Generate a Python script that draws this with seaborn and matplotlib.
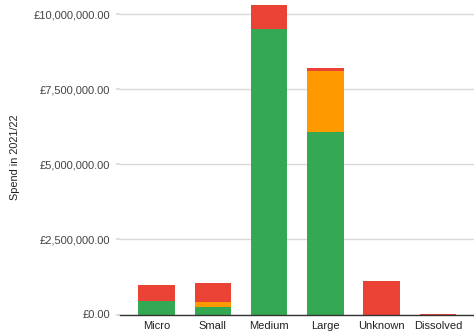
import matplotlib
matplotlib.use("Agg")
import matplotlib.pyplot as plt
import seaborn as sns
import pandas as pd
import numpy as np
from matplotlib.ticker import FuncFormatter

categories = ["Micro", "Small", "Medium", "Large", "Unknown", "Dissolved"]
green_vals = [450000, 240000, 9530000, 6090000, 0, 0]
orange_vals = [0, 180000, 0, 2040000, 0, 0]
red_vals = [520000, 640000, 800000, 90000, 1120000, 30000]
y_ticks = [0, 2500000, 5000000, 7500000, 10000000]

GREEN = "#34A853"
ORANGE = "#FF9900"
RED = "#EA4335"

sns.set_theme(style="white")
plt.rcParams["font.family"] = ["Liberation Sans", "DejaVu Sans"]

df = pd.DataFrame({
    "cat": categories,
    "green": green_vals,
    "orange": orange_vals,
    "red": red_vals,
})
df["go"] = df["green"] + df["orange"]
df["total"] = df["go"] + df["red"]

fig = plt.figure(figsize=(4.74, 3.32), dpi=100)
ax = fig.add_axes([120 / 474, 1 - 314.5 / 332, (474 - 120) / 474, 314.5 / 332])

for col, color in [("total", RED), ("go", ORANGE), ("green", GREEN)]:
    sns.barplot(data=df, x="cat", y=col, order=categories, color=color,
                width=0.65, saturation=1, ax=ax, zorder=3, linewidth=0)

ax.set_xlim(-0.65, 5.64)
ax.set_ylim(0, 10480000)
ax.set_yticks(y_ticks)
ax.yaxis.set_major_formatter(FuncFormatter(lambda v, p: "£{:,.2f}".format(v)))
ax.grid(axis="y", color="#d9d9d9", linewidth=1, zorder=0)
ax.grid(axis="x", visible=False)
for s in ["top", "right", "left"]:
    ax.spines[s].set_visible(False)
ax.spines["bottom"].set_color("#333333")
ax.spines["bottom"].set_linewidth(1)
ax.spines["bottom"].set_zorder(5)

ax.tick_params(axis="y", length=3, color="#d9d9d9", labelsize=8, labelcolor="#444444", pad=4, left=True)
ax.tick_params(axis="x", length=0, labelsize=8, labelcolor="#222222", pad=5)
ax.set_xlabel("")
ax.set_ylabel("Spend in 2021/22", fontsize=7.8, color="#222222")
ax.yaxis.set_label_coords(-100 / 354, 0.5)

fig.savefig("out.png", dpi=100)
